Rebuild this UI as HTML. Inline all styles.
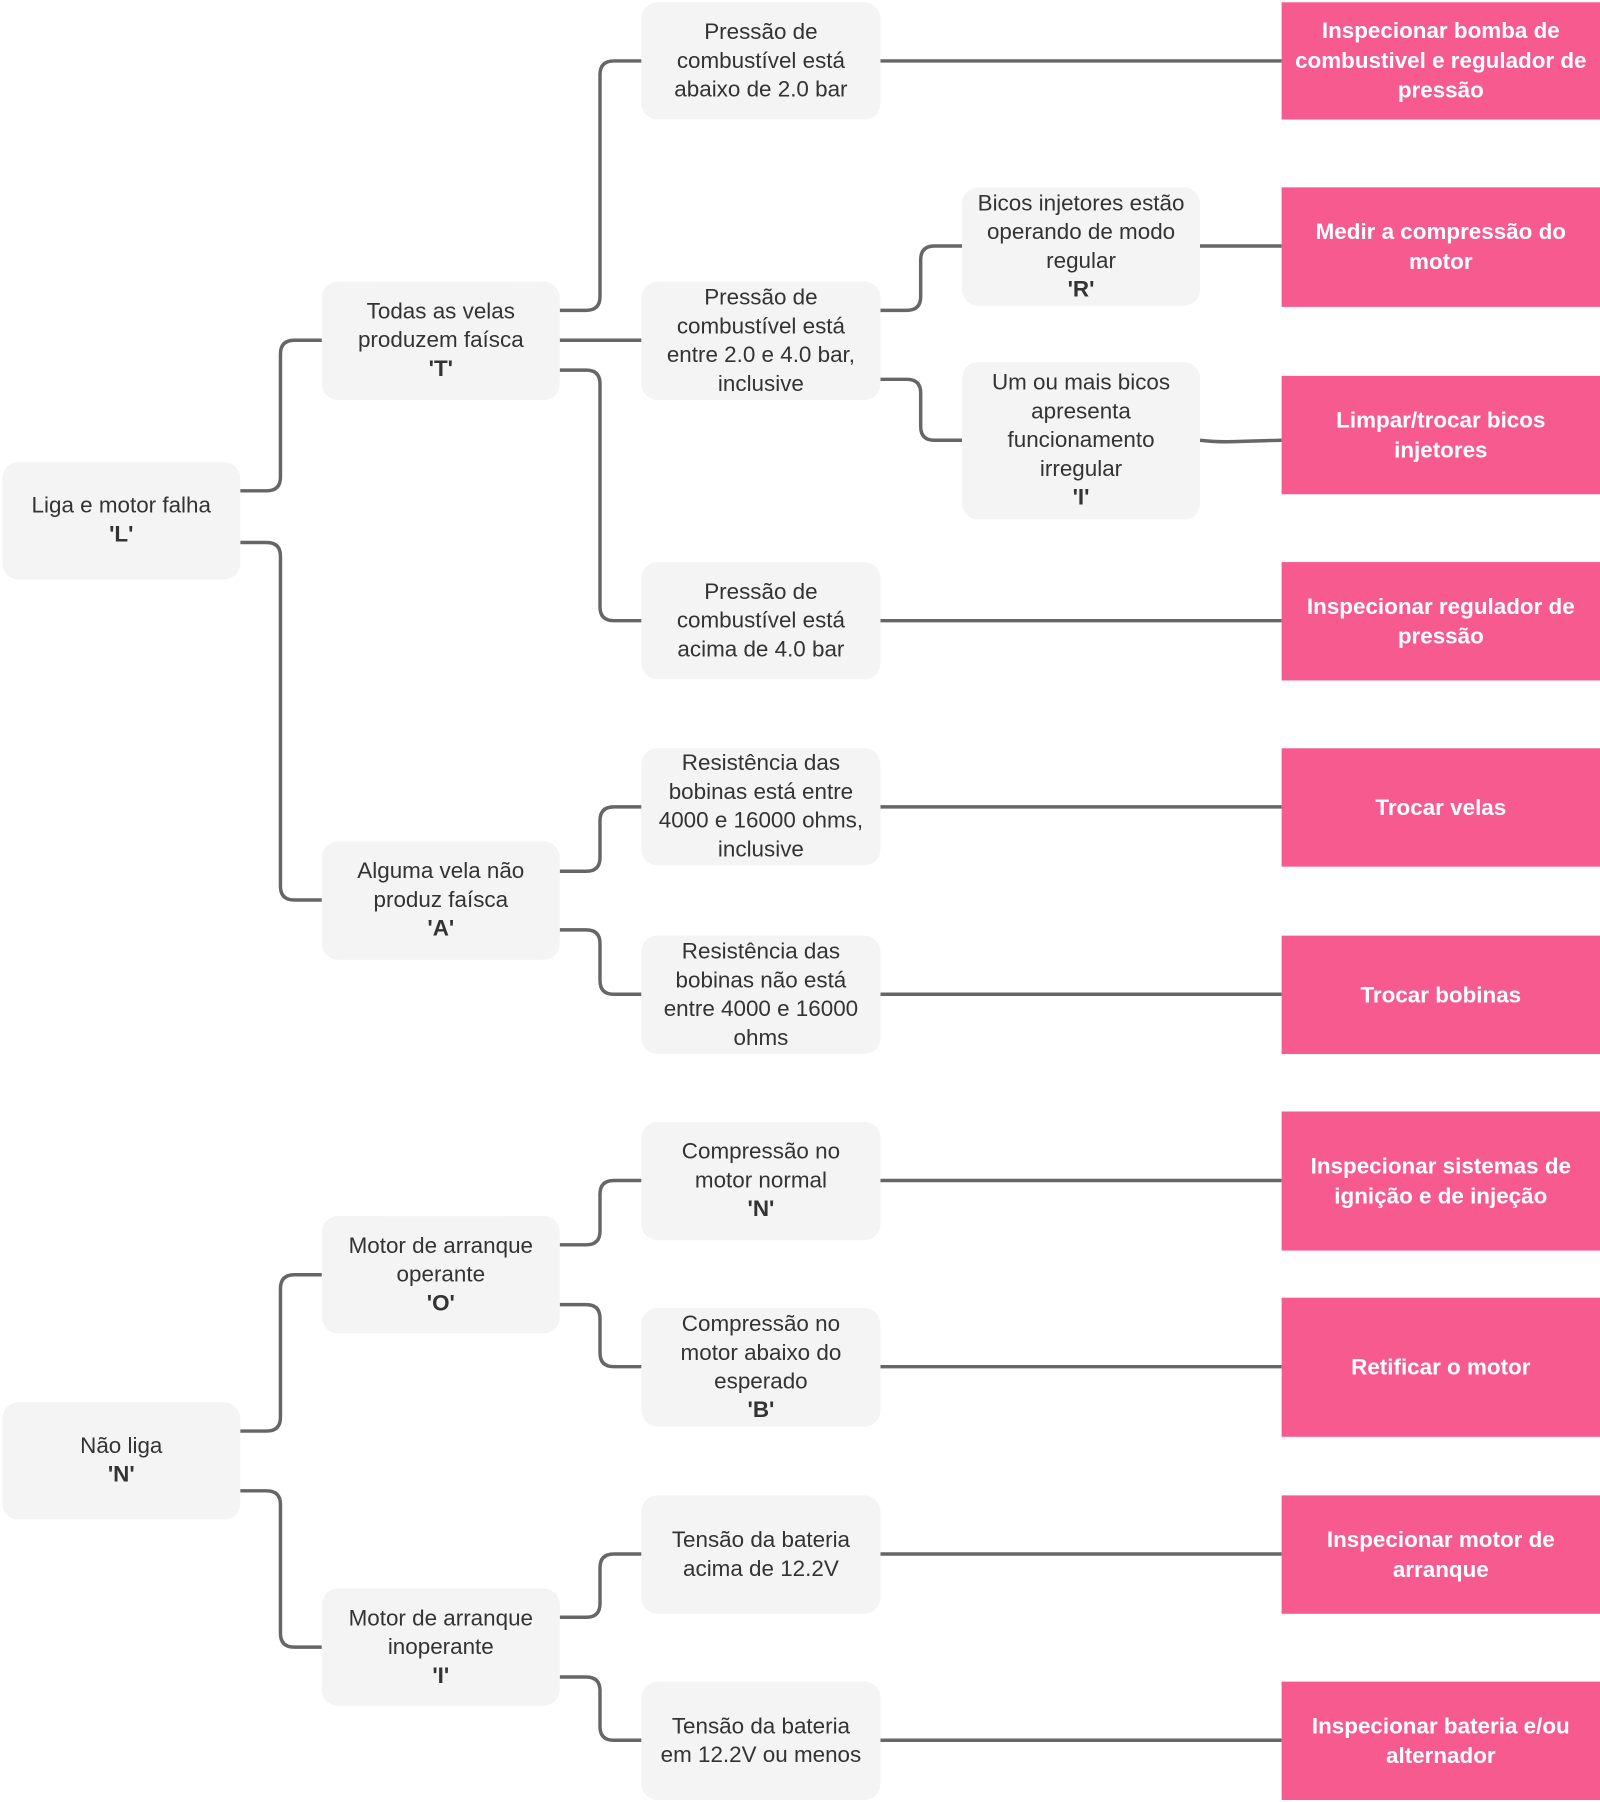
<!DOCTYPE html>
<html><head><meta charset="utf-8"><style>
html,body{margin:0;padding:0;background:#fff;width:1600px;height:1802px;overflow:hidden}
#w{position:absolute;left:0;top:0;width:1392px;height:1568px;transform:scale(1.14943);transform-origin:0 0}
.b{position:absolute;background:#f4f4f4;border-radius:14px;display:flex;align-items:center;justify-content:center;text-align:center;color:#333;font-family:"Liberation Sans","Noto Sans CJK SC",sans-serif;font-size:19.5px;line-height:25px;box-sizing:border-box;white-space:nowrap}
.p{position:absolute;background:#f75a8f;display:flex;align-items:center;justify-content:center;text-align:center;color:#fff;font-weight:bold;font-family:"Liberation Sans","Noto Sans CJK SC",sans-serif;font-size:19.5px;line-height:26px;box-sizing:border-box;white-space:nowrap;left:1115px;width:277px}
b{font-weight:bold}
svg{position:absolute;left:0;top:0}
</style></head><body><div id="w">
<svg width="1392" height="1568" fill="none" stroke="#666" stroke-width="3">
<path d="M209 427 H232 Q244 427 244 415 V308 Q244 296 256 296 H280"/>
<path d="M209 472 H232 Q244 472 244 484 V771 Q244 783 256 783 H280"/>
<path d="M209 1245 H232 Q244 1245 244 1233 V1121 Q244 1109 256 1109 H280"/>
<path d="M209 1297 H232 Q244 1297 244 1309 V1421 Q244 1433 256 1433 H280"/>
<path d="M487 270 H510 Q522 270 522 258 V65 Q522 53 534 53 H558"/>
<path d="M487 296 H558"/>
<path d="M487 322 H510 Q522 322 522 334 V528 Q522 540 534 540 H558"/>
<path d="M487 758 H510 Q522 758 522 746 V714 Q522 702 534 702 H558"/>
<path d="M487 809 H510 Q522 809 522 821 V853 Q522 865 534 865 H558"/>
<path d="M487 1083 H510 Q522 1083 522 1071 V1039 Q522 1027 534 1027 H558"/>
<path d="M487 1135 H510 Q522 1135 522 1147 V1177 Q522 1189 534 1189 H558"/>
<path d="M487 1407 H510 Q522 1407 522 1395 V1364 Q522 1352 534 1352 H558"/>
<path d="M487 1459 H510 Q522 1459 522 1471 V1502 Q522 1514 534 1514 H558"/>
<path d="M766 270 H789 Q801 270 801 258 V226 Q801 214 813 214 H837"/>
<path d="M766 330 H789 Q801 330 801 342 V371 Q801 383 813 383 H837"/>
<path d="M766 53 H1115"/>
<path d="M1044 214 H1115"/>
<path d="M1044 383 Q1060 385 1080 384 L1115 383"/>
<path d="M766 540 H1115"/>
<path d="M766 702 H1115"/>
<path d="M766 865 H1115"/>
<path d="M766 1027 H1115"/>
<path d="M766 1189 H1115"/>
<path d="M766 1352 H1115"/>
<path d="M766 1514 H1115"/>
</svg>
<div class="b" style="left:2px;top:402px;width:207px;height:102px"><div>Liga e motor falha<br><b>'L'</b></div></div>
<div class="b" style="left:2px;top:1220px;width:207px;height:102px"><div>Não liga<br><b>'N'</b></div></div>
<div class="b" style="left:280px;top:245px;width:207px;height:103px"><div>Todas as velas<br>produzem faísca<br><b>'T'</b></div></div>
<div class="b" style="left:280px;top:732px;width:207px;height:103px"><div>Alguma vela não<br>produz faísca<br><b>'A'</b></div></div>
<div class="b" style="left:280px;top:1058px;width:207px;height:102px"><div>Motor de arranque<br>operante<br><b>'O'</b></div></div>
<div class="b" style="left:280px;top:1382px;width:207px;height:102px"><div>Motor de arranque<br>inoperante<br><b>'I'</b></div></div>
<div class="b" style="left:558px;top:2px;width:208px;height:102px"><div>Pressão de<br>combustível está<br>abaixo de 2.0 bar</div></div>
<div class="b" style="left:558px;top:245px;width:208px;height:103px"><div>Pressão de<br>combustível está<br>entre 2.0 e 4.0 bar,<br>inclusive</div></div>
<div class="b" style="left:558px;top:489px;width:208px;height:102px"><div>Pressão de<br>combustível está<br>acima de 4.0 bar</div></div>
<div class="b" style="left:558px;top:651px;width:208px;height:102px"><div>Resistência das<br>bobinas está entre<br>4000 e 16000 ohms,<br>inclusive</div></div>
<div class="b" style="left:558px;top:814px;width:208px;height:103px"><div>Resistência das<br>bobinas não está<br>entre 4000 e 16000<br>ohms</div></div>
<div class="b" style="left:558px;top:976px;width:208px;height:103px"><div>Compressão no<br>motor normal<br><b>'N'</b></div></div>
<div class="b" style="left:558px;top:1138px;width:208px;height:103px"><div>Compressão no<br>motor abaixo do<br>esperado<br><b>'B'</b></div></div>
<div class="b" style="left:558px;top:1301px;width:208px;height:103px"><div>Tensão da bateria<br>acima de 12.2V</div></div>
<div class="b" style="left:558px;top:1463px;width:208px;height:103px"><div>Tensão da bateria<br>em 12.2V ou menos</div></div>
<div class="b" style="left:837px;top:163px;width:207px;height:103px"><div>Bicos injetores estão<br>operando de modo<br>regular<br><b>'R'</b></div></div>
<div class="b" style="left:837px;top:315px;width:207px;height:137px"><div>Um ou mais bicos<br>apresenta<br>funcionamento<br>irregular<br><b>'I'</b></div></div>
<div class="p" style="top:2px;height:102px"><div>Inspecionar bomba de<br>combustivel e regulador de<br>pressão</div></div>
<div class="p" style="top:163px;height:104px"><div>Medir a compressão do<br>motor</div></div>
<div class="p" style="top:327px;height:103px"><div>Limpar/trocar bicos<br>injetores</div></div>
<div class="p" style="top:489px;height:103px"><div>Inspecionar regulador de<br>pressão</div></div>
<div class="p" style="top:651px;height:103px"><div>Trocar velas</div></div>
<div class="p" style="top:814px;height:103px"><div>Trocar bobinas</div></div>
<div class="p" style="top:967px;height:121px"><div>Inspecionar sistemas de<br>ignição e de injeção</div></div>
<div class="p" style="top:1129px;height:121px"><div>Retificar o motor</div></div>
<div class="p" style="top:1301px;height:103px"><div>Inspecionar motor de<br>arranque</div></div>
<div class="p" style="top:1463px;height:103px"><div>Inspecionar bateria e/ou<br>alternador</div></div>
</div></body></html>
